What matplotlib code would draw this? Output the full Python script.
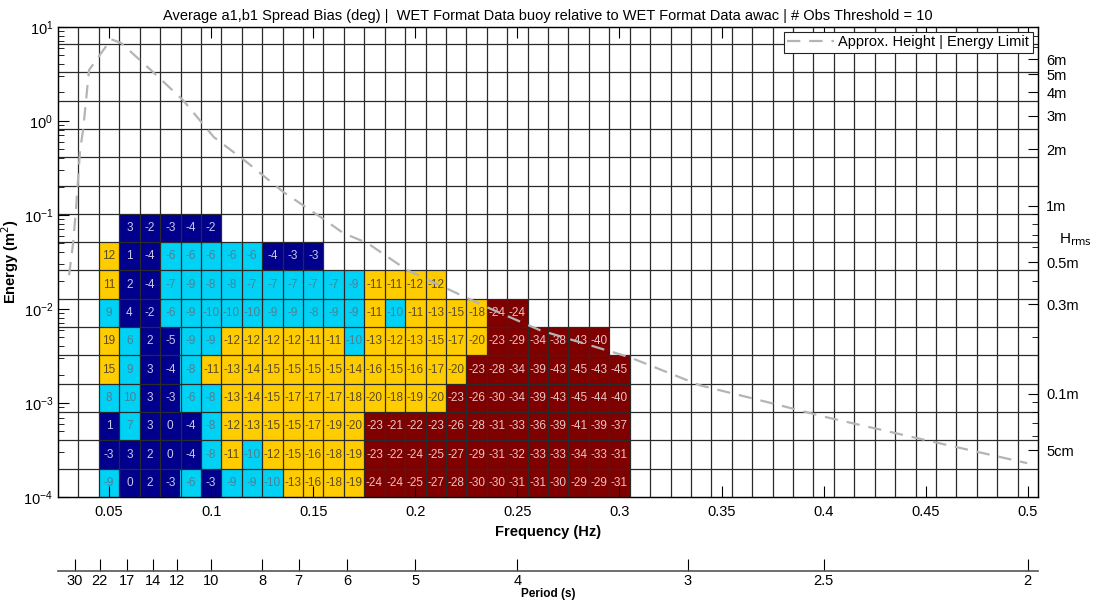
import numpy as np
import matplotlib
matplotlib.use('Agg')
import matplotlib.pyplot as plt
from matplotlib.colors import ListedColormap
from matplotlib.ticker import NullFormatter, LogLocator

plt.rcParams['font.family'] = ['Liberation Sans', 'DejaVu Sans']

nan = np.nan

# ---------------- data ----------------
freq_bins = [0.05, 0.06, 0.07, 0.08, 0.09, 0.10, 0.11, 0.12, 0.13, 0.14, 0.15, 0.16, 0.17,
             0.18, 0.19, 0.20, 0.21, 0.22, 0.23, 0.24, 0.25, 0.26, 0.27, 0.28, 0.29, 0.30]

# energy bin index k: bin spans 1e-4*2^k .. 1e-4*2^(k+1); rows listed bottom (k=0) to top (k=9)
row_k0 = [-9, 0, 2, -3, -6, -3, -9, -9, -10, -13, -16, -18, -19, -24, -24, -25, -27, -28, -30, -30, -31, -31, -30, -29, -29, -31]
row_k1 = [-3, 3, 2, 0, -4, -8, -11, -10, -12, -15, -16, -18, -19, -23, -22, -24, -25, -27, -29, -31, -32, -33, -33, -34, -33, -31]
row_k2 = [1, 7, 3, 0, -4, -8, -12, -13, -15, -15, -17, -19, -20, -23, -21, -22, -23, -26, -28, -31, -33, -36, -39, -41, -39, -37]
row_k3 = [8, 10, 3, -3, -6, -8, -13, -14, -15, -17, -17, -17, -18, -20, -18, -19, -20, -23, -26, -30, -34, -39, -43, -45, -44, -40]
row_k4 = [15, 9, 3, -4, -8, -11, -13, -14, -15, -15, -15, -15, -14, -16, -15, -16, -17, -20, -23, -28, -34, -39, -43, -45, -43, -45]
row_k5 = [19, 6, 2, -5, -9, -9, -12, -12, -12, -12, -11, -11, -10, -13, -12, -13, -15, -17, -20, -23, -29, -34, -38, -43, -40, nan]
row_k6 = [9, 4, -2, -6, -9, -10, -10, -10, -9, -9, -8, -9, -9, -11, -10, -11, -13, -15, -18, -24, -24, nan, nan, nan, nan, nan]
row_k7 = [11, 2, -4, -7, -9, -8, -8, -7, -7, -7, -7, -7, -9, -11, -11, -12, -12, nan, nan, nan, nan, nan, nan, nan, nan, nan]
row_k8 = [12, 1, -4, -6, -6, -6, -6, -6, -4, -3, -3, nan, nan, nan, nan, nan, nan, nan, nan, nan, nan, nan, nan, nan, nan, nan]
row_k9 = [nan, 3, -2, -3, -4, -2, nan, nan, nan, nan, nan, nan, nan, nan, nan, nan, nan, nan, nan, nan, nan, nan, nan, nan, nan, nan]

# approx. height | energy limit curve
curve_freq = [0.0304, 0.0324, 0.0339, 0.0358, 0.0373, 0.0402, 0.0510, 0.0559, 0.0705, 0.0862,
              0.1013, 0.1180, 0.1355, 0.1536, 0.1648, 0.1766, 0.1960, 0.2352, 0.2611, 0.3050,
              0.3394, 0.3687, 0.4014, 0.4503, 0.4997]
curve_energy = [0.0228, 0.050, 0.121, 0.488, 0.80, 3.46, 7.35, 6.71, 3.46, 1.66,
                0.671, 0.355, 0.174, 0.0946, 0.0638, 0.0500, 0.0258, 0.0104, 0.00593, 0.00306,
                0.00154, 0.00107, 0.000705, 0.000401, 0.000229]

period_ticks = [30, 22, 17, 14, 12, 10, 8, 7, 6, 5, 4, 3, 2.5, 2]
period_labels = ['30', '22', '17', '14', '12', '10', '8', '7', '6', '5', '4', '3', '2.5', '2']

hrms_vals = [6, 5, 4, 3, 2, 1, 0.5, 0.3, 0.1, 0.05]
hrms_labels = ['6m', '5m', '4m', '3m', '2m', '1m', '0.5m', '0.3m', '0.1m', '5cm']

title = ('Average a1,b1 Spread Bias (deg) |  WET Format Data buoy relative to '
         'WET Format Data awac | # Obs Threshold = 10')

# ---------------- figure ----------------
fig = plt.figure(figsize=(10.99, 6.04), dpi=100)
L, B, W, H = 58 / 1099, 1 - 497 / 604, (1038 - 58) / 1099, (497 - 26.7) / 604
ax = fig.add_axes([L, B, W, H])

xmin, xmax = 0.025, 0.505
ymin, ymax = 1e-4, 1e1
ax.set_xscale('linear')
ax.set_yscale('log')

rows = np.array([row_k0, row_k1, row_k2, row_k3, row_k4, row_k5, row_k6, row_k7, row_k8, row_k9], dtype=float)
fb = np.array(freq_bins)
df = 0.01
f_edges = np.concatenate([fb - df / 2, [fb[-1] + df / 2]])
e_edges = 1e-4 * 2.0 ** np.arange(rows.shape[0] + 1)

cat = np.digitize(np.abs(rows), [5, 10, 20], right=True).astype(float)
cat[np.isnan(rows)] = np.nan
cat_m = np.ma.masked_invalid(cat)
cell_colors = ['#00008c', '#00d2f5', '#ffcc00', '#800000']
text_colors = ['#c8c8e6', '#4f7f94', '#5a4a20', '#e6c4c4']
ax.pcolormesh(f_edges, e_edges, cat_m, cmap=ListedColormap(cell_colors),
              vmin=-0.5, vmax=3.5, zorder=1)

for i in range(rows.shape[0]):
    yc = np.sqrt(e_edges[i] * e_edges[i + 1])
    for j in range(rows.shape[1]):
        v = rows[i, j]
        if np.isnan(v):
            continue
        c = int(cat[i, j])
        ax.text(fb[j], yc, '%d' % v, ha='center', va='center', fontsize=8.5,
                color=text_colors[c], zorder=4)

# grid on bin edges
grid_f = np.arange(xmin + df, xmax - df / 2, df)
grid_e = 1e-4 * 2.0 ** np.arange(1, 17)
for gx in grid_f:
    ax.axvline(gx, color='#2a2a2a', lw=0.9, zorder=3)
for gy in grid_e:
    ax.axhline(gy, color='#2a2a2a', lw=0.9, zorder=3)

line, = ax.plot(curve_freq, curve_energy, color='#b4b4b4', lw=1.6, dashes=(6, 4), zorder=5,
                label='Approx. Height | Energy Limit')

ax.set_xlim(xmin, xmax)
ax.set_ylim(ymin, ymax)
xt = [0.05, 0.1, 0.15, 0.2, 0.25, 0.3, 0.35, 0.4, 0.45, 0.5]
ax.set_xticks(xt)
ax.set_xticklabels(['0.05', '0.1', '0.15', '0.2', '0.25', '0.3', '0.35', '0.4', '0.45', '0.5'])
ax.tick_params(axis='x', which='both', direction='in', top=True, length=8, labelsize=10.5, pad=6)
ax.yaxis.set_major_locator(LogLocator(base=10, numticks=10))
ax.yaxis.set_minor_locator(LogLocator(base=10, subs=np.arange(2, 10), numticks=20))
ax.yaxis.set_minor_formatter(NullFormatter())
ax.tick_params(axis='y', which='major', direction='in', length=8, labelsize=10.5, right=False)
ax.tick_params(axis='y', which='minor', direction='in', length=4, right=False)
for s in ax.spines.values():
    s.set_color('#222222')
    s.set_linewidth(1.0)

ax.set_xlabel('Frequency (Hz)', fontsize=10.5, fontweight='bold', labelpad=4)
ax.set_ylabel('Energy (m$^2$)', fontsize=10.5, fontweight='bold', labelpad=2)
ax.set_title(title, fontsize=10.5, pad=5)

# right Hrms axis (E = Hrms^2 / 8)
ax2 = ax.twinx()
ax2.set_yscale('log')
ax2.set_ylim(ymin, ymax)
ax2.set_yticks([h * h / 8 for h in hrms_vals])
ax2.set_yticklabels(hrms_labels)
ax2.yaxis.set_minor_locator(plt.FixedLocator([h * h / 8 for h in
                                              [0.06, 0.07, 0.08, 0.09, 0.2, 0.4, 0.6, 0.7, 0.8, 0.9, 7, 8, 9]]))
ax2.yaxis.set_minor_formatter(NullFormatter())
ax2.tick_params(axis='y', which='major', direction='in', length=7, labelsize=10.5, pad=6)
ax2.tick_params(axis='y', which='minor', direction='in', length=4)
fig.text(1075 / 1099, 1 - 240 / 604, 'H$_{\\mathrm{rms}}$', fontsize=11, ha='center', va='center')

leg = ax2.legend(handles=[line], loc='upper right', fontsize=10.5, frameon=True, fancybox=False,
                 edgecolor='#222222', framealpha=1.0, borderpad=0.25, handlelength=3.2,
                 handletextpad=0.3, borderaxespad=0.35)
leg.get_frame().set_linewidth(0.8)
leg.set_zorder(10)

# period axis
axp = fig.add_axes([L, 1 - 571 / 604, W, 0.03])
axp.patch.set_visible(False)
for k in ['top', 'left', 'right']:
    axp.spines[k].set_visible(False)
axp.spines['bottom'].set_color('#555555')
axp.spines['bottom'].set_linewidth(1.2)
axp.set_xlim(xmin, xmax)
axp.set_yticks([])
axp.set_xticks([1.0 / p for p in period_ticks])
axp.set_xticklabels(period_labels)
axp.tick_params(axis='x', direction='in', length=9, labelsize=10.5, pad=2)
axp.set_xlabel('Period (s)', fontsize=8.5, fontweight='bold', labelpad=0)

fig.savefig('out.png', dpi=100)
